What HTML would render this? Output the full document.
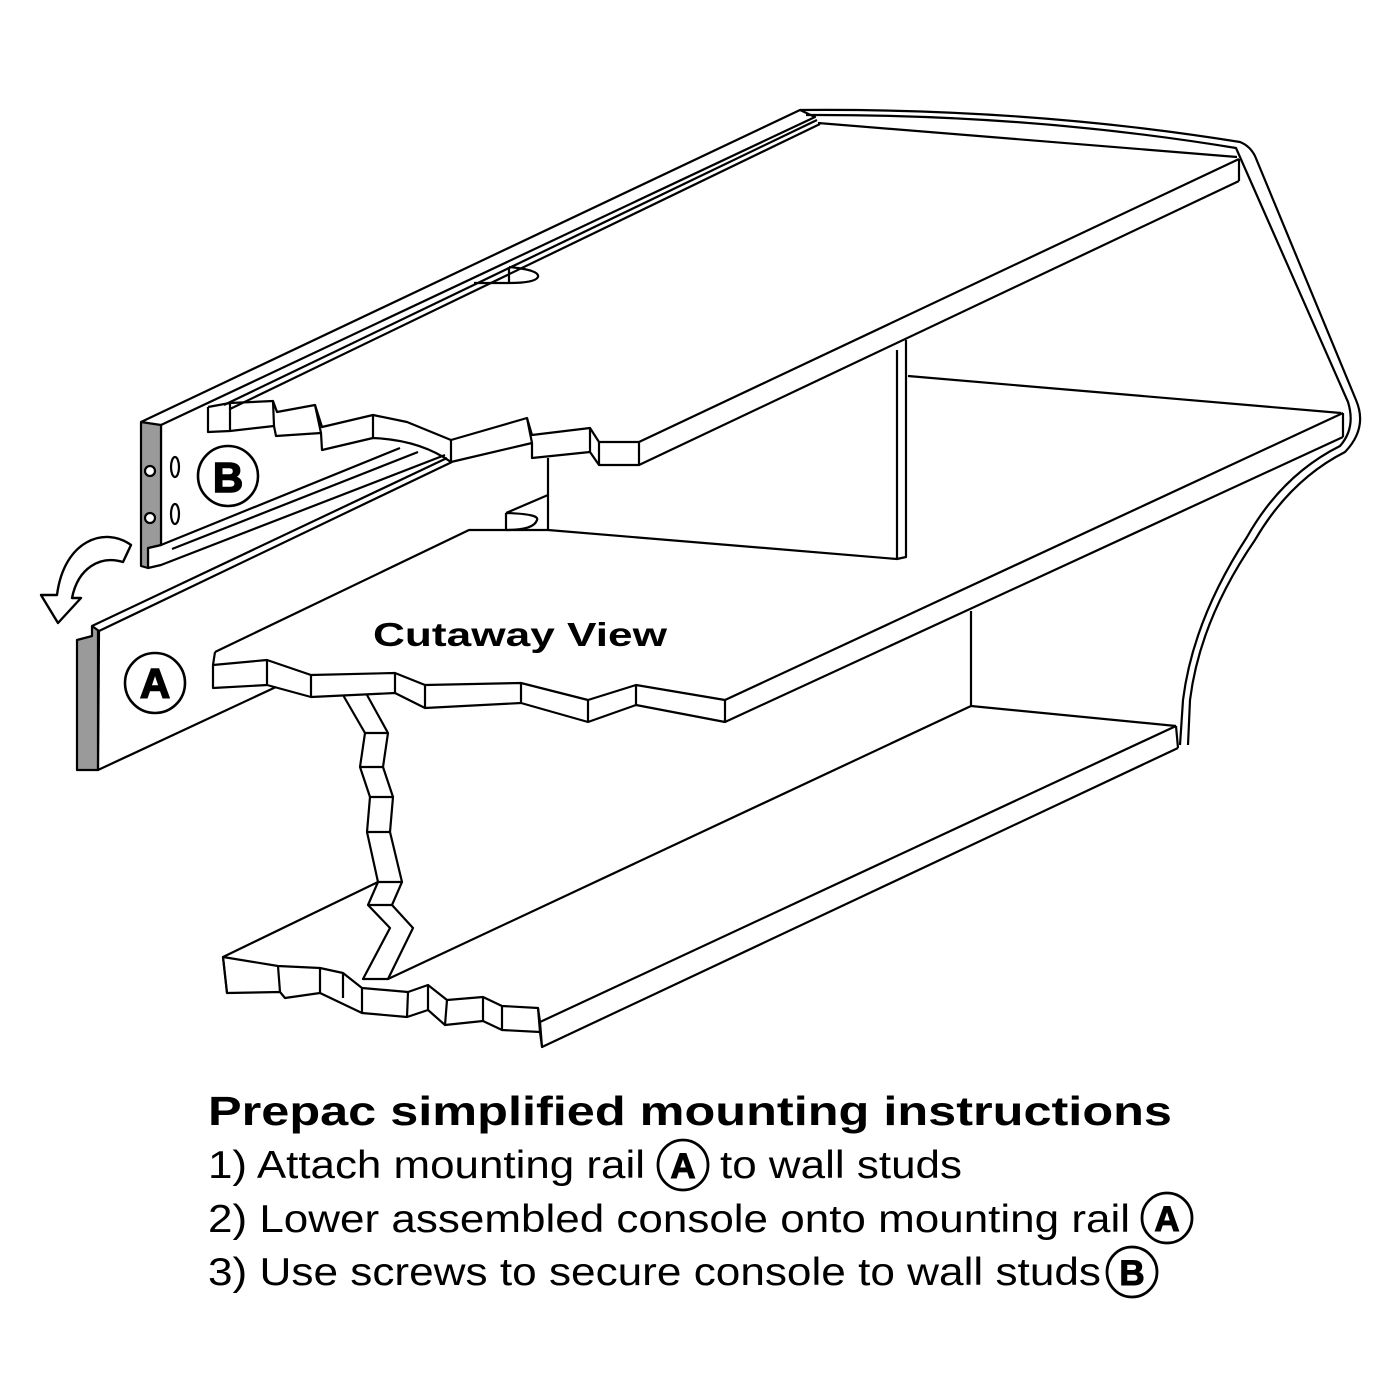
<!DOCTYPE html>
<html><head><meta charset="utf-8"><style>
html,body{margin:0;padding:0;background:#fff;}
svg{display:block;}
text{font-family:"Liberation Sans",Arial,sans-serif;fill:#000;}
</style></head><body>
<svg width="1400" height="1400" viewBox="0 0 1400 1400" xmlns="http://www.w3.org/2000/svg">
<g fill="none" stroke="#000" stroke-width="2.2" stroke-linejoin="round">
<path d="M800,110 Q1030,108 1240,142 Q1250,146 1255,156 L1356,400 Q1368,428 1345,452 Q1290,480 1255,540 Q1200,620 1190,700 L1188,745" />
<path d="M806,115 Q1030,114 1236,148 L1348,402 Q1356,428 1340,446 Q1282,475 1247,537 Q1193,620 1183,700 L1180,745" />
<path d="M818,123 L1237,157" />
<path d="M1239,159 L1239,181" />
<path d="M1239,159 L639,442" />
<path d="M1239,181 L639,465" />
<path d="M141,422 L800,110 L815,117 L161,425" />
<path d="M224,405 L817,120" />
<path d="M230,409 L820,124" />
<path d="M474,283 L509,283 M509,267 L509,283 M509,267 Q540,270 538,277 Q535,283 509,283" />
<path d="M208,407 L230,403 L273,401 L277,412 L315,405 L322,427 L373,415 L407,422 L451,440 L527,418 L532,435 L590,428 L599,442 L639,442" />
<path d="M208,407 L208,432 L230,431 L230,403 M230,431 L274,426 L273,401 M274,426 L276,436 L321,433 L315,405 M321,433 L322,450 L373,438 L373,415 M373,438 Q420,440 451,462 L451,440 M451,462 L532,443 L527,418 M532,443 L532,458 L590,452 L590,428 M590,452 L599,465 L639,465 L639,442 M599,442 L599,465" />
<path d="M161,425 L161,545 L148,548 L148,568 L161,565 L445,455" />
<path d="M161,545 L400,448" />
<path d="M172,549 L418,452" />
<polygon points="141,422 161,425 161,545 148,548 148,568 141,566" fill="#9a9a9a" />
<circle cx="150" cy="471" r="5" fill="#fff"/>
<circle cx="150" cy="518" r="5" fill="#fff"/>
<ellipse cx="175" cy="467" rx="4" ry="10"/>
<ellipse cx="175" cy="514" rx="4" ry="10"/>
<circle cx="228" cy="476" r="30" fill="#fff" stroke-width="2.6"/>
<path d="M92,626 L447,458 M99,631 L452,462" />
<path d="M548,458 L548,530" />
<path d="M548,495 L506,513 M506,513 L506,530 M506,513 Q540,514 537,520 Q534,530 506,530" />
<path d="M215,652 L469,530 L548,530 L897,559" />
<path d="M897,350 L897,559 L906,557 L906,340" />
<polygon points="77,640 92,636 92,626 99,631 98,770 77,770" fill="#9a9a9a" />
<path d="M98,631 L98,770 L276,687" />
<circle cx="155" cy="683" r="30" fill="#fff" stroke-width="2.6"/>
<path d="M908,376 L1341,413" />
<path d="M1343,413 L1343,437" />
<path d="M1343,413 L725,700 M1343,437 L725,722" />
<path d="M213,665 L267,660 L311,675 L395,673 L425,685 L521,683 L588,700 L636,685 L725,700 L725,722 L636,705 L588,722 L521,703 L425,708 L395,693 L311,697 L267,685 L213,688 Z" />
<path d="M267,660 L267,685 M311,675 L311,697 M395,673 L395,693 M425,685 L425,708 M521,683 L521,703 M588,700 L588,722 M636,685 L636,705" />
<path d="M213,665 L215,652" />
<path d="M971,611 L971,706 L1176,726 M1176,726 L1178,748" />
<path d="M343,695 L365,733 L360,767 L370,797 L367,832 L378,882 L368,905 L390,928 L363,979 L388,979 L413,928 L392,905 L402,882 L390,832 L393,797 L383,767 L388,733 L367,695" />
<path d="M365,733 L388,733 M360,767 L383,767 M370,797 L393,797 M367,832 L390,832 M378,882 L402,882 M368,905 L392,905" />
<path d="M388,979 L971,706" />
<path d="M223,957 L378,882" />
<path d="M1176,726 L540,1022 M1178,748 L542,1047" />
<path d="M223,957 L278,966 L320,968 L343,973 L362,988 L408,992 L428,985 L447,1000 L483,997 L502,1006 L538,1008 L540,1022 L542,1047 L540,1032 L502,1030 L483,1021 L445,1025 L428,1010 L407,1017 L362,1013 L320,993 L285,998 L280,992 L227,993 Z" />
<path d="M278,966 L280,992 M320,968 L320,993 M343,973 L343,998 M362,988 L362,1013 M408,992 L407,1017 M428,985 L428,1010 M447,1000 L445,1025 M483,997 L483,1021 M502,1006 L502,1030 M538,1008 L540,1032 M223,957 L227,993" />
<path d="M131,545 C105,526 64,540 57,595 L41,595 L58,623 L81,598 L72,598 C78,568 100,555 123,562 Z" fill="#fff" stroke-width="2.4"/>
</g>
<text x="228" y="492" font-size="42" font-weight="bold" text-anchor="middle" stroke="#000" stroke-width="1.5">B</text>
<text x="155" y="698" font-size="42" font-weight="bold" text-anchor="middle" stroke="#000" stroke-width="1.5">A</text>
<text x="373" y="646" font-size="33" font-weight="bold" textLength="294" lengthAdjust="spacingAndGlyphs">Cutaway View</text>
<text x="208" y="1125" font-size="41" font-weight="bold" textLength="964" lengthAdjust="spacingAndGlyphs">Prepac simplified mounting instructions</text>
<text x="208" y="1178" font-size="39" textLength="437" lengthAdjust="spacingAndGlyphs">1) Attach mounting rail</text>
<text x="720" y="1178" font-size="39" textLength="242" lengthAdjust="spacingAndGlyphs">to wall studs</text>
<text x="208" y="1232" font-size="39" textLength="922" lengthAdjust="spacingAndGlyphs">2) Lower assembled console onto mounting rail</text>
<text x="208" y="1285" font-size="39" textLength="893" lengthAdjust="spacingAndGlyphs">3) Use screws to secure console to wall studs</text>
<g fill="none" stroke="#000" stroke-width="2.8">
<circle cx="683" cy="1165" r="25"/>
<circle cx="1167" cy="1218" r="25"/>
<circle cx="1132" cy="1272" r="25"/>
</g>
<text x="683" y="1178" font-size="35" font-weight="bold" text-anchor="middle" stroke="#000" stroke-width="1">A</text>
<text x="1167" y="1231" font-size="35" font-weight="bold" text-anchor="middle" stroke="#000" stroke-width="1">A</text>
<text x="1132" y="1285" font-size="35" font-weight="bold" text-anchor="middle" stroke="#000" stroke-width="1">B</text>
</svg>
</body></html>
